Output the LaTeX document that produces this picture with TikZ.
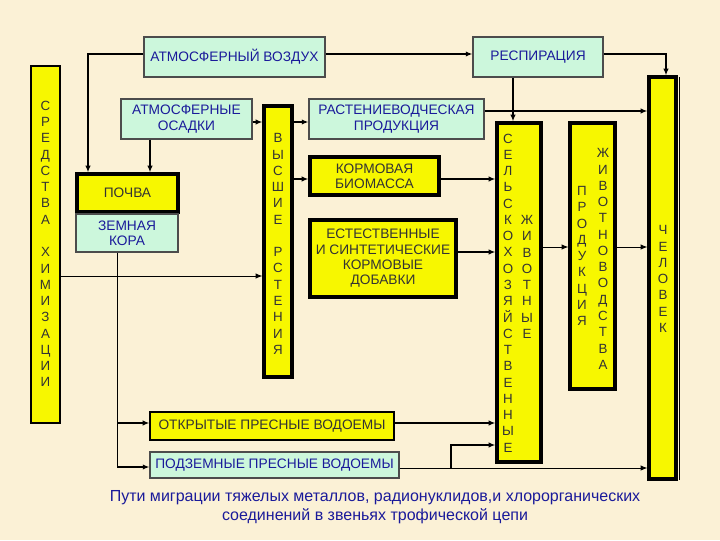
\documentclass[tikz,border=0pt]{standalone}
\usepackage{fontspec}
\setmainfont{Liberation Sans}
\usetikzlibrary{fit,arrows.meta}
\definecolor{bg}{HTML}{FBF1D6}
\definecolor{gr}{HTML}{CCF7DC}
\definecolor{yl}{HTML}{F7F700}
\definecolor{tb}{HTML}{1A1A9A}
\definecolor{tk}{HTML}{333333}
\tikzset{
 base/.style={inner sep=0pt},
 gbox/.style={base, draw=black!70, line width=0.8pt, fill=gr},
 ybox/.style={base, draw=black, line width=2.4pt, fill=yl},
 ythin/.style={base, draw=black, line width=0.9pt, fill=yl},
 tg/.style={inner sep=0pt, align=center, text=tb, font={\fontsize{10.3}{11.5}\selectfont}},
 ty/.style={inner sep=0pt, align=center, text=tk, font={\fontsize{10.3}{11.5}\selectfont}},
 vt/.style={inner sep=0pt, align=center, text=tk, font={\fontsize{10}{12.2}\selectfont}},
 arr/.style={-{Latex[length=5pt,width=4pt]}, line width=1pt},
 ln/.style={line width=1pt},
}
\begin{document}
\begin{tikzpicture}[x=0.75pt,y=-0.75pt]
\fill[bg] (0,0) rectangle (720,540);
\useasboundingbox (0,0) rectangle (720,540);
% boxes
\node[gbox, fit={(144,37) (325,77)}] (air) {};
\node[tg] (airt) at (air.center) {АТМОСФЕРНЫЙ ВОЗДУХ};
\node[gbox, fit={(473,37) (603,77)}] (resp) {};
\node[tg] (respt) at (resp.center) {РЕСПИРАЦИЯ};
\node[base, draw=black, line width=1.8pt, fill=yl, fit={(31,66) (60,423)}] (chem) {};
\node[gbox, fit={(121,99) (252,139)}] (osad) {};
\node[tg] (osadt) at (osad.center) {АТМОСФЕРНЫЕ\\ОСАДКИ};
\node[ybox, fit={(77,174) (178,212)}] (soil) {};
\node[ty] (soilt) at (soil.center) {ПОЧВА};
\node[gbox, fit={(76,214) (178,252)}] (crust) {};
\node[tg] (crustt) at (crust.center) {ЗЕМНАЯ\\КОРА};
\node[ybox, fit={(264,106) (292,377)}] (plants) {};
\node[gbox, fit={(309,99) (484,139)}] (rast) {};
\node[tg] (rastt) at (rast.center) {РАСТЕНИЕВОДЧЕСКАЯ\\ПРОДУКЦИЯ};
\node[ybox, fit={(310,157) (439,195)}] (korm) {};
\node[ty] (kormt) at (korm.center) {КОРМОВАЯ\\БИОМАССА};
\node[ybox, fit={(310,220) (456,297)}] (dob) {};
\node[ty] (dobt) at (dob.center) {ЕСТЕСТВЕННЫЕ\\И СИНТЕТИЧЕСКИЕ\\КОРМОВЫЕ\\ДОБАВКИ};
\node[ythin, fit={(150,412) (394,440)}] (open) {};
\node[ty] (opent) at (open.center) {ОТКРЫТЫЕ ПРЕСНЫЕ ВОДОЕМЫ};
\node[gbox, fit={(150,452) (399,478)}] (under) {};
\node[tg] (undert) at (under.center) {ПОДЗЕМНЫЕ ПРЕСНЫЕ ВОДОЕМЫ};
\node[ybox, fit={(497,123) (541,462)}] (anim) {};
\node[ybox, fit={(570,123) (615,389)}] (prod) {};
\node[ybox, fit={(649,77) (676,479)}] (man) {};
\draw[line width=0.6pt] (679,77) -- (679,480);
% vertical texts
\node[vt] (t1) at (45.5,244) {С\\Р\\Е\\Д\\С\\Т\\В\\А\\ \\Х\\И\\М\\И\\З\\А\\Ц\\И\\И};
\node[vt] (t2) at (278,244) {В\\Ы\\С\\Ш\\И\\Е\\ \\Р\\С\\Т\\Е\\Н\\И\\Я};
\node[vt] (t3) at (508,293) {С\\Е\\Л\\Ь\\С\\К\\О\\Х\\О\\З\\Я\\Й\\С\\Т\\В\\Е\\Н\\Н\\Ы\\Е};
\node[vt] (t4) at (527,277) {Ж\\И\\В\\О\\Т\\Н\\Ы\\Е};
\node[vt] (t5) at (582,256) {П\\Р\\О\\Д\\У\\К\\Ц\\И\\Я};
\node[vt] (t6) at (603,259) {Ж\\И\\В\\О\\Т\\Н\\О\\В\\О\\Д\\С\\Т\\В\\А};
\node[vt] (t7) at (663,279) {Ч\\Е\\Л\\О\\В\\Е\\К};
% caption
\node[text=tb, align=center, font={\fontsize{12}{14.5}\selectfont}] (cap) at (375,507)
 {Пути миграции тяжелых металлов, радионуклидов,и хлорорганических\\соединений в звеньях трофической цепи};
% connectors
\draw[arr] (air.west |- 0,54) -| (soil.north -| 88,0);
\draw[arr] (air.east |- 0,54) -- (resp.west |- 0,54);
\draw[arr] (resp.east |- 0,54) -| (man.north -| 666,0);
\draw[arr] (resp.south -| 513,0) -- (anim.north -| 513,0);
\draw[arr] (osad.south -| 150,0) -- (soil.north -| 150,0);
\draw[arr] (osad.east |- 0,122) -- (plants.west |- 0,122);
\draw[arr] (plants.east |- 0,122) -- (rast.west |- 0,122);
\draw[arr] (plants.east |- 0,179) -- (korm.west |- 0,179);
\draw[arr, line width=0.7pt] (chem.east |- 0,276) -- (plants.west |- 0,276);
\draw[arr] (rast.east |- 0,111) -- (man.west |- 0,111);
\draw[arr] (korm.east |- 0,179) -- (anim.west |- 0,179);
\draw[arr] (dob.east |- 0,252) -- (anim.west |- 0,252);
\draw[arr, line width=0.7pt] (anim.east |- 0,247) -- (prod.west |- 0,247);
\draw[arr, line width=0.7pt] (prod.east |- 0,247) -- (man.west |- 0,247);
\draw[ln, line width=0.7pt] (crust.south -| 117,0) -- (117,467);
\draw[arr] (117,423) -- (open.west |- 0,423);
\draw[arr] (117,467) -- (under.west |- 0,467);
\draw[arr] (open.east |- 0,423) -- (anim.west |- 0,423);
\draw[arr, line width=0.7pt] (under.east |- 0,468) -- (man.west |- 0,468);
\coordinate (br) at (451,468);
\draw[arr] (br) |- (anim.west |- 0,445);
\end{tikzpicture}
\end{document}
